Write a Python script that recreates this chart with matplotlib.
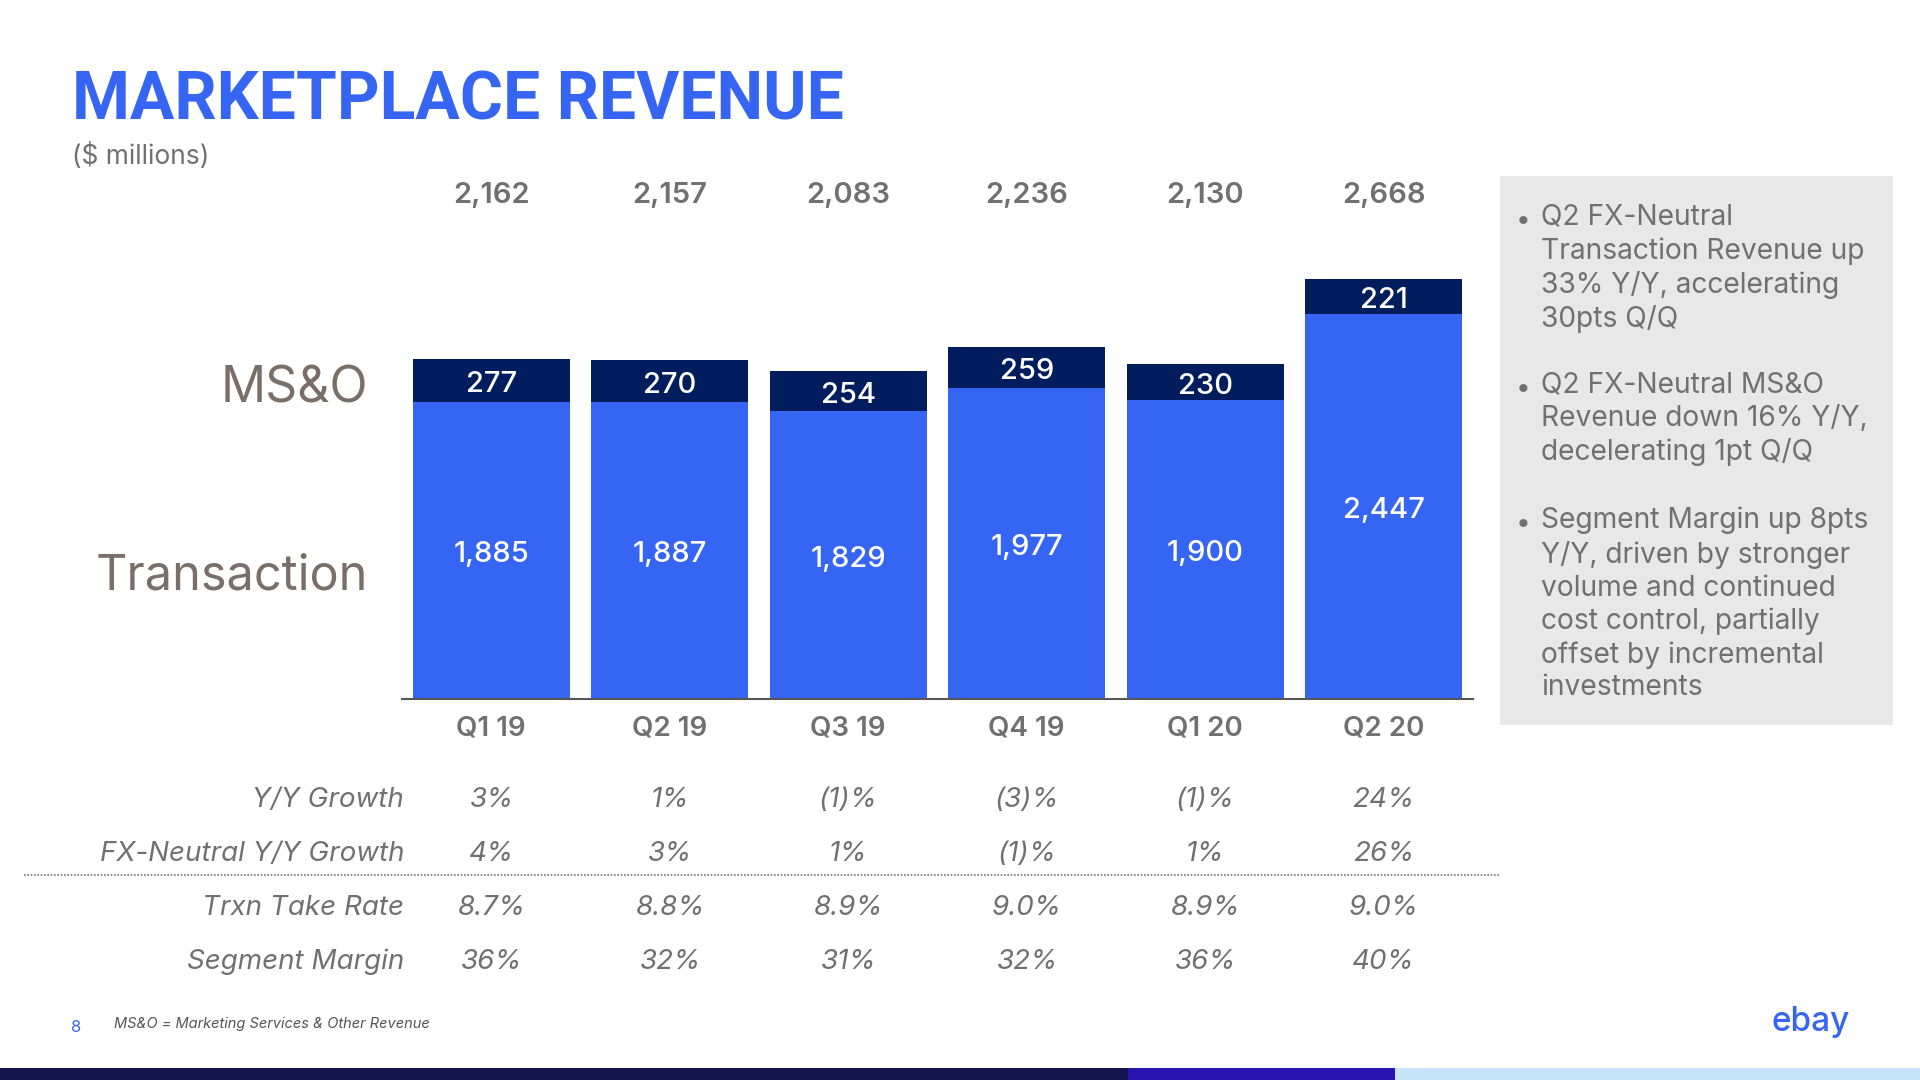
import matplotlib
matplotlib.use("Agg")
import matplotlib.pyplot as plt
from matplotlib.transforms import blended_transform_factory
from matplotlib.patches import Rectangle

# ---- data ----
quarters = ["Q1 19", "Q2 19", "Q3 19", "Q4 19", "Q1 20", "Q2 20"]
transaction = [1885, 1887, 1829, 1977, 1900, 2447]
msno = [277, 270, 254, 259, 230, 221]
totals = [2162, 2157, 2083, 2236, 2130, 2668]
row_labels = ["Y/Y Growth", "FX-Neutral Y/Y Growth", "Trxn Take Rate", "Segment Margin"]
yy_growth = ["3%", "1%", "(1)%", "(3)%", "(1)%", "24%"]
fxn_growth = ["4%", "3%", "1%", "(1)%", "1%", "26%"]
take_rate = ["8.7%", "8.8%", "8.9%", "9.0%", "8.9%", "9.0%"]
seg_margin = ["36%", "32%", "31%", "32%", "36%", "40%"]
bullets = [
    "Q2 FX-Neutral\nTransaction Revenue up\n33% Y/Y, accelerating\n30pts Q/Q",
    "Q2 FX-Neutral MS&O\nRevenue down 16% Y/Y,\ndecelerating 1pt Q/Q",
    "Segment Margin up 8pts\nY/Y, driven by stronger\nvolume and continued\ncost control, partially\noffset by incremental\ninvestments",
]

BLUE = "#3665F3"
NAVY = "#021d5d"
GREY = "#707070"
BROWN = "#7a6f68"
FONT = ["Inter", "DejaVu Sans"]
plt.rcParams["font.family"] = FONT

W, H = 1920, 1080
fig = plt.figure(figsize=(19.2, 10.8), dpi=100)
fig.patch.set_facecolor("white")

def fy(px):
    return 1 - px / H

def fx(px):
    return px / W

# ---- bar axes ----
ax_left, ax_right = 402, 1473
ax_bottom_px, ax_top_px = 699, 227
ax = fig.add_axes([fx(ax_left), fy(ax_bottom_px), fx(ax_right - ax_left),
                   (ax_bottom_px - ax_top_px) / H])
x = list(range(len(quarters)))
ax.bar(x, transaction, width=0.88, color=BLUE, zorder=2)
ax.bar(x, msno, bottom=transaction, width=0.88, color=NAVY, zorder=2)
ax.set_xlim(-0.5, len(quarters) - 0.5)
ax.set_ylim(0, 3000)
for s in ["top", "right", "left"]:
    ax.spines[s].set_visible(False)
ax.spines["bottom"].set_color("#555555")
ax.spines["bottom"].set_linewidth(1.5)
ax.set_yticks([])
ax.set_xticks(x)
ax.set_xticklabels(quarters, fontsize=20, color=GREY, fontweight="semibold")
ax.tick_params(axis="x", length=0, pad=12)
ax.patch.set_alpha(0)

for i in x:
    ax.annotate(f"{transaction[i]:,}", (i, transaction[i] / 2), xytext=(0, -3),
                textcoords="offset points", ha="center", va="center",
                color="white", fontsize=21, fontweight="medium")
    ax.annotate(f"{msno[i]:,}", (i, transaction[i] + msno[i] / 2), xytext=(0, -3),
                textcoords="offset points", ha="center", va="center",
                color="white", fontsize=21, fontweight="medium")

tr = blended_transform_factory(ax.transData, fig.transFigure)
for i in x:
    ax.text(i, fy(196), f"{totals[i]:,}", transform=tr, ha="center", va="center",
            color=GREY, fontsize=21, fontweight="semibold")

# series labels on the left
fig.text(fx(368), fy(389), "MS&O", ha="right", va="center", color=BROWN, fontsize=36)
fig.text(fx(368), fy(576), "Transaction", ha="right", va="center", color=BROWN, fontsize=35)

# ---- table ----
rows = [yy_growth, fxn_growth, take_rate, seg_margin]
row_y = [800, 854, 908, 962]
for lab, vals, ypx in zip(row_labels, rows, row_y):
    fig.text(fx(404), fy(ypx), lab, ha="right", va="center", color=GREY,
             fontsize=20, style="italic")
    for i, v in enumerate(vals):
        ax.text(i, fy(ypx), v, transform=tr, ha="center", va="center", color=GREY,
                fontsize=20, style="italic")
fig.add_artist(plt.Line2D([fx(24), fx(1499)], [fy(875), fy(875)],
                          transform=fig.transFigure, color="#777777",
                          linestyle=(0, (1, 1)), linewidth=1.2))

# ---- title ----
fig.text(fx(72), fy(102), "MARKETPLACE REVENUE", ha="left", va="center",
         color=BLUE, fontsize=47.5, fontweight="bold", family=["Roboto", "DejaVu Sans"])
fig.text(fx(72), fy(157), "($ millions)", ha="left", va="center", color=GREY, fontsize=19)

# ---- right panel ----
fig.add_artist(Rectangle((fx(1500), fy(725)), fx(393), (725 - 176) / H,
                         transform=fig.transFigure, facecolor="#e8e8e8",
                         edgecolor="none", zorder=0))
starts = [220, 388, 523]
for b, y0 in zip(bullets, starts):
    fig.text(fx(1516), fy(y0 + 1), "•", ha="left", va="center", color=GREY, fontsize=19)
    fig.text(fx(1541), fy(y0 - 16), b, ha="left", va="top", color=GREY,
             fontsize=20.3, linespacing=1.28)

# ---- footer ----
fig.text(fx(76), fy(1027), "8", ha="center", va="center", color=BLUE, fontsize=12)
fig.text(fx(114), fy(1024), "MS&O = Marketing Services & Other Revenue", ha="left",
         va="center", color="#555555", fontsize=10.5, style="italic")
fig.text(fx(1811), fy(1022), "ebay", ha="center", va="center", color=BLUE,
         fontsize=24, fontweight="medium")

# bottom colour bar
for x0, x1, c in [(0, 1128, "#13154c"), (1128, 1395, "#2914b2"), (1395, 1920, "#c6e3f8")]:
    fig.add_artist(Rectangle((fx(x0), 0), fx(x1 - x0), 12 / H, transform=fig.transFigure,
                             facecolor=c, edgecolor="none"))

fig.savefig("out.png", dpi=100, facecolor="white")
